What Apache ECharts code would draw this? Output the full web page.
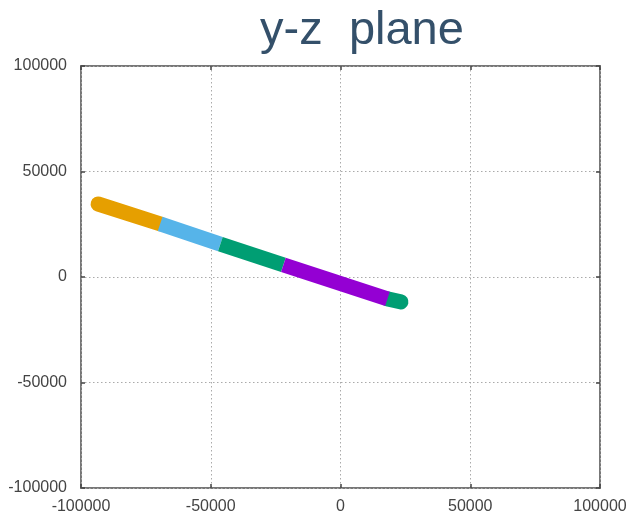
<!DOCTYPE html>
<html><head><meta charset="utf-8">
<script src="https://cdn.jsdelivr.net/npm/echarts@6/dist/echarts.min.js"></script>
<style>html,body{margin:0;padding:0;background:#fff}#c{width:631px;height:517px}</style>
</head><body><div id="c"></div>
<script>
const titleText = "y-z  plane";
const xTicks = [-100000, -50000, 0, 50000, 100000];
const yTicks = [-100000, -50000, 0, 50000, 100000];
const segOrange = [[-93400, 34600], [-69500, 25200]];
const segBlue = [[-69500, 25200], [-46300, 15600]];
const segGreen1 = [[-46300, 15600], [-22000, 5700]];
const segPurple = [[-22000, 5700], [18100, -10400]];
const segGreen2 = [[18100, -10400], [23300, -11800]];
const colors = {orange: "#E69F00", blue: "#56B4E9", green: "#009E73", purple: "#9400D3"};

const chart = echarts.init(document.getElementById('c'), null, {renderer: 'canvas'});
function seg(data, color, cap, z) {
  return {type: 'line', data: data, symbol: 'none', silent: true, z: z,
    lineStyle: {color: color, width: 15, cap: cap}};
}
function mkAxis(pos, ticks, showLabel, showSplit, margin) {
  return {
    type: 'value', position: pos, min: ticks[0], max: ticks[ticks.length - 1], interval: ticks[1] - ticks[0],
    axisLine: {show: false, onZero: false},
    axisTick: {show: true, inside: true, length: 4, lineStyle: {color: '#444', width: 1.5}},
    splitLine: {show: showSplit, lineStyle: {color: '#aaa', type: [1.5, 2.5], width: 1}},
    axisLabel: {show: showLabel, color: '#444', fontFamily: 'Liberation Sans', fontSize: 16, margin: margin,
      formatter: v => String(v)}
  };
}
chart.setOption({
  backgroundColor: '#fff',
  animation: false,
  title: {text: titleText, left: 357, top: 3, textAlign: 'center',
    textStyle: {color: '#34506a', fontFamily: 'Liberation Sans', fontSize: 47, fontWeight: 'normal'}},
  grid: {left: 81, right: 31, top: 66, bottom: 29, show: true, borderColor: '#777', borderWidth: 2, containLabel: false},
  xAxis: [mkAxis('bottom', xTicks, true, true, 11), mkAxis('top', xTicks, false, false, 8)],
  yAxis: [mkAxis('left', yTicks, true, true, 14), mkAxis('right', yTicks, false, false, 8)],
  series: [
    seg(segOrange, colors.orange, 'round', 2),
    seg(segBlue, colors.blue, 'butt', 3),
    seg(segGreen1, colors.green, 'butt', 4),
    seg(segGreen2, colors.green, 'round', 5),
    seg(segPurple, colors.purple, 'butt', 6)
  ]
});
</script></body></html>
